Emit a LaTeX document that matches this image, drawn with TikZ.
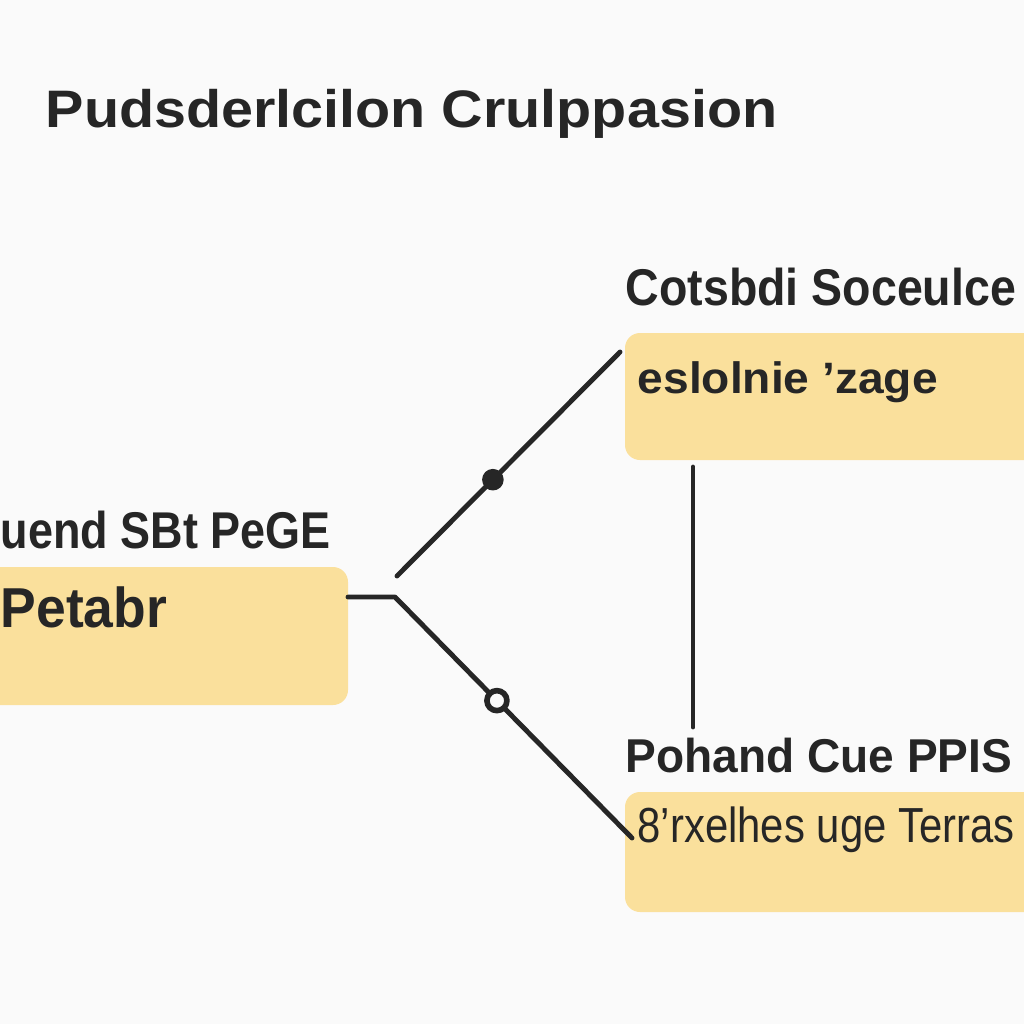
\documentclass[tikz,border=0pt]{standalone}
\usepackage{graphicx}
\usepackage{fontspec}
\setmainfont{Liberation Sans}
\definecolor{bgc}{HTML}{FAFAFA}
\definecolor{boxc}{HTML}{FAE09C}
\definecolor{ink}{HTML}{262626}
\newcommand{\sq}{{\char"27}}
\begin{document}
\begin{tikzpicture}[x=0.01cm,y=-0.01cm,
  card/.style={fill=boxc,draw=none,rounded corners=0.15cm},
  head/.style={anchor=base west,inner sep=0pt,text=ink,font=\bfseries\fontsize{14.7}{16}\selectfont},
  body/.style={anchor=base west,inner sep=0pt,text=ink},
  wire/.style={draw=ink,line width=1.4pt,line cap=round,line join=round},
  dot/.style={circle,draw=ink,fill=ink,line width=1pt,inner sep=0pt,minimum size=0.16cm}]
\clip (0,0) rectangle (1024,1024);
\fill[bgc] (0,0) rectangle (1024,1024);
% title
\node[head,font=\bfseries\fontsize{15}{17}\selectfont] (title) at (45,127) {\scalebox{1.09}[1]{Pudsderlcilon Crulppasion}};
% cards
\path[card] (625,333) rectangle (1060,460);
\coordinate (tr) at (625,333);
\path[card] (-40,567) rectangle (348,705);
\coordinate (lb) at (348,597);
\path[card] (625,792) rectangle (1060,912);
% headings
\node[head] (h1) at (625,305) {\scalebox{0.9}[1]{Cotsbdi Soceulce}};
\node[head] (h2) at (0,548) {\scalebox{0.87}[1]{uend SBt PeGE}};
\node[head,font=\bfseries\fontsize{13.5}{15}\selectfont] (h3) at (625,772) {\scalebox{0.97}[1]{Pohand Cue PPIS}};
% card texts
\node[body,font=\bfseries\fontsize{12.5}{14}\selectfont] (t1) at (637,393) {\scalebox{1.05}[1]{eslolnie \sq zage}};
\node[body,font=\bfseries\fontsize{16}{18}\selectfont] (t2) at (0,627) {\scalebox{0.95}[1]{Petabr}};
\node[body,font=\fontsize{14}{16}\selectfont] (t3) at (637,842) {\scalebox{0.85}[1]{8\sq rxelhes uge Terras}};
% connectors
\coordinate (j) at (395,597);
\coordinate (ua) at (397,576);
\coordinate (ub) at (620,352);
\coordinate (bb) at (632,838);
\coordinate (va) at (693,467);
\coordinate (vb) at (693,727);
\draw[wire] (lb) -- (j) -- (bb) node[dot,pos=0.43,fill=bgc,line width=1.6pt,minimum size=0.2cm] (m2) {};
\draw[wire] (ua) -- (ub) node[dot,pos=0.43,minimum size=0.18cm] (m1) {};
\draw[wire] (va) -- (vb);
\end{tikzpicture}
\end{document}
